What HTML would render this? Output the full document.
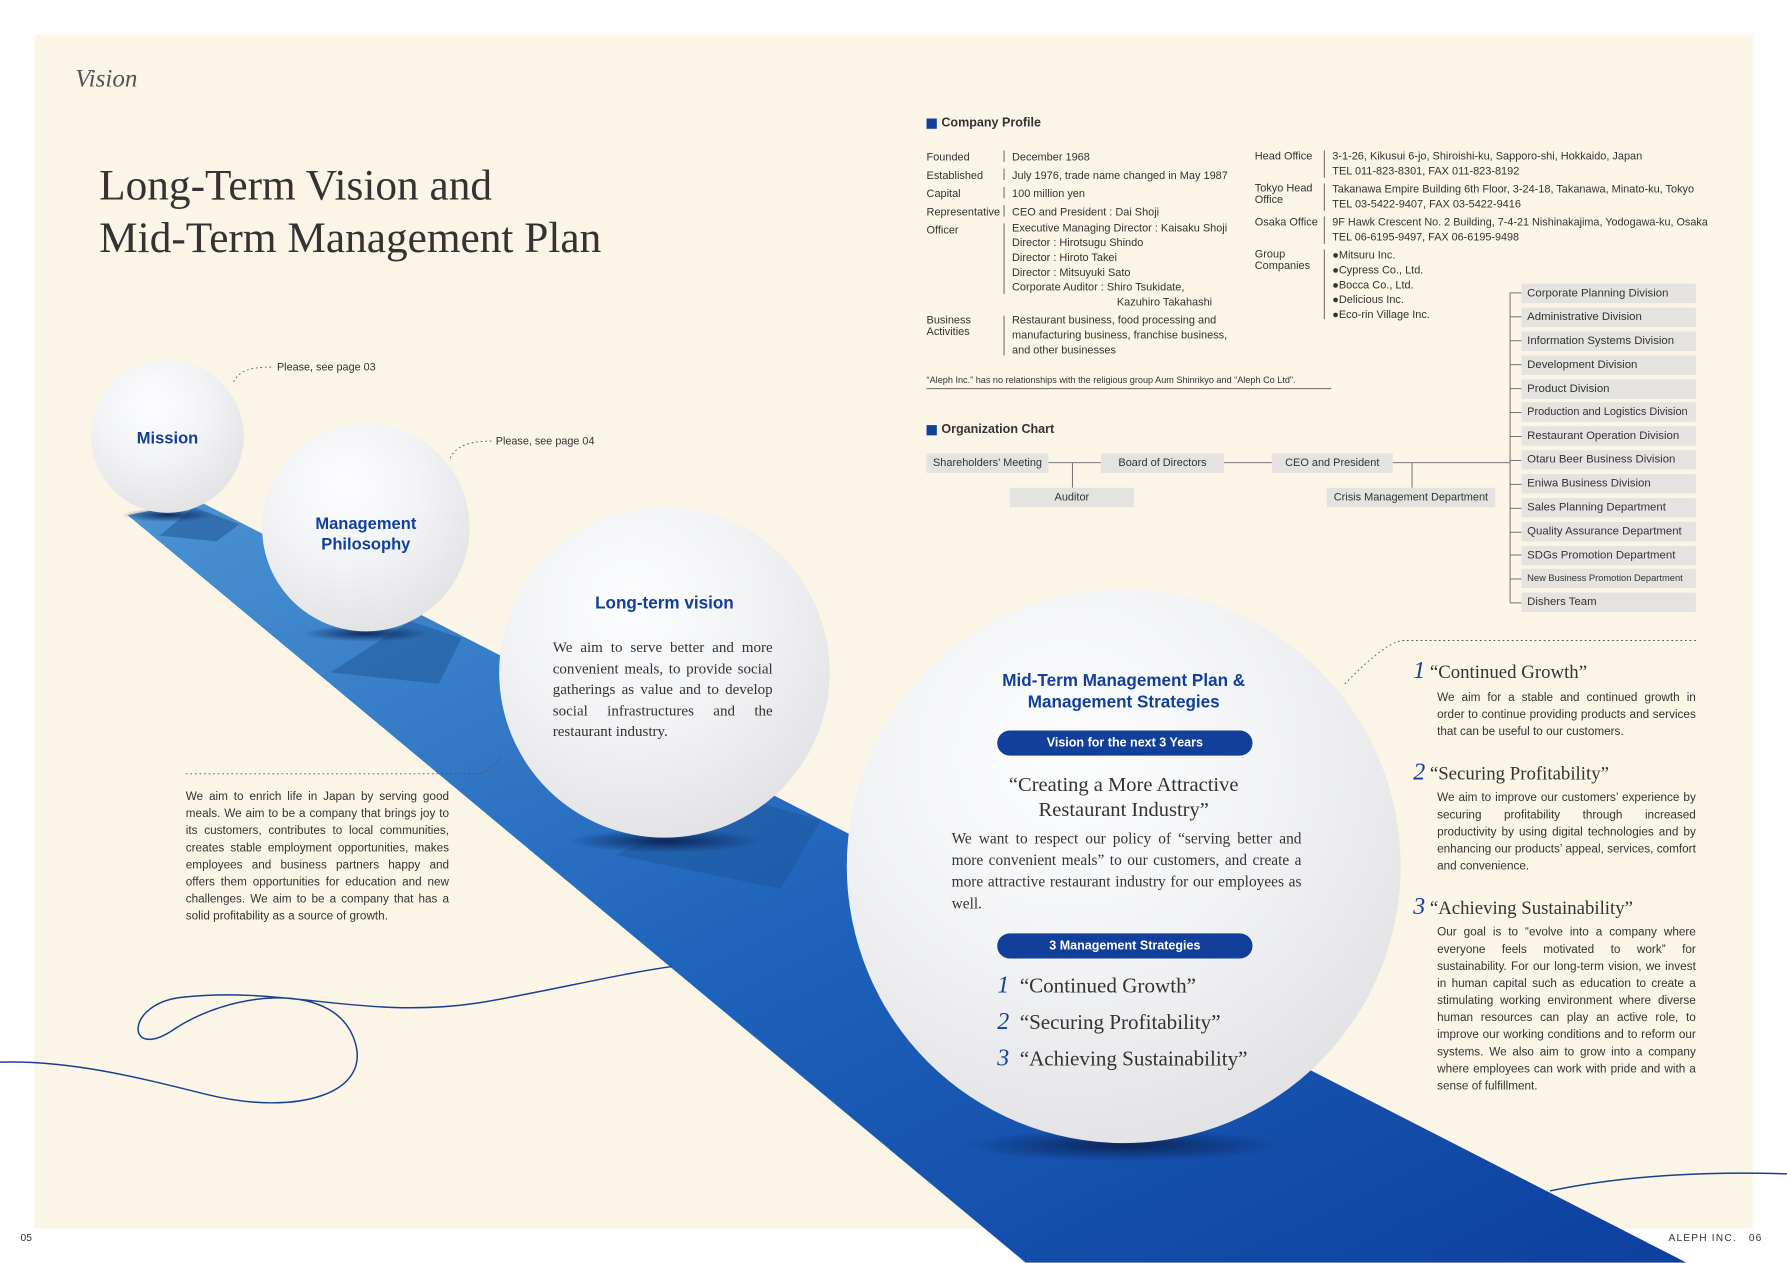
<!DOCTYPE html>
<html><head><meta charset="utf-8">
<style>
html,body{margin:0;padding:0;background:#fff;}
body{width:1787px;height:1263px;overflow:hidden;position:relative;}
#s{position:absolute;left:0;top:0;width:1568px;height:1108px;transform:scale(1.13967);transform-origin:0 0;font-family:"Liberation Sans",sans-serif;color:#333;}
.a{position:absolute;white-space:nowrap;}
.sm{font-size:10px;line-height:13px;color:#333;}
.serif{font-family:"Liberation Serif",serif;}
.box{position:absolute;background:#e4e3df;font-size:10px;height:17px;line-height:17px;color:#333;text-align:center;}
.div{position:absolute;left:1335px;width:153px;background:#e4e3df;font-size:10px;height:17px;line-height:17px;padding-left:5px;box-sizing:border-box;white-space:nowrap;overflow:hidden;}
.ball{position:absolute;border-radius:50%;background:radial-gradient(circle at 40% 30%,#fcfdfe 0%,#f2f3f5 40%,#e2e2e4 80%,#d6d6d8 100%);}
.blue{color:#123f9a;font-weight:bold;text-align:center;}
.pill{position:absolute;background:#123f9a;color:#fff;font-weight:bold;font-size:11px;text-align:center;border-radius:11px;height:22px;line-height:22px;}
.p{position:absolute;font-size:10.3px;line-height:15px;color:#333;text-align:justify;}
</style></head><body>
<div id="s">
<div style="position:absolute;left:30px;top:30px;width:1508px;height:1048px;background:#faf5e6;"></div>
<svg width="1568" height="1108" style="position:absolute;left:0;top:0">
<defs>
<linearGradient id="g" x1="0" y1="0" x2="1" y2="1"><stop offset="0" stop-color="#4b93d2"/><stop offset="0.5" stop-color="#1d62bb"/><stop offset="1" stop-color="#0d3f9f"/></linearGradient>
<radialGradient id="sh"><stop offset="0" stop-color="#0a2050" stop-opacity="0.9"/><stop offset="1" stop-color="#0a2050" stop-opacity="0"/></radialGradient>
</defs>
<polygon points="112,452 175,440 1480,1108 900,1108" fill="url(#g)"/>
<polygon points="170,445 210,460 190,475 140,470" fill="#1b4f8f" opacity="0.5"/>
<polygon points="360,545 405,560 385,600 290,590" fill="#1b4f8f" opacity="0.45"/>
<polygon points="650,700 720,720 685,780 540,750" fill="#1b4f8f" opacity="0.4"/>
<ellipse cx="147" cy="452" rx="40" ry="6" fill="url(#sh)"/>
<ellipse cx="321" cy="556" rx="55" ry="7" fill="url(#sh)"/>
<ellipse cx="583" cy="738" rx="85" ry="10" fill="url(#sh)"/>
<ellipse cx="986" cy="1005" rx="140" ry="14" fill="url(#sh)"/>
<path d="M0,932 C60,930 120,945 180,960 C260,980 330,960 310,910 C290,860 200,870 150,905 C110,930 110,880 160,875 C250,865 320,895 420,880 C480,870 540,855 590,848" fill="none" stroke="#1a3f8f" stroke-width="1.3"/>
<path d="M1360,1045 C1430,1030 1510,1028 1568,1030" fill="none" stroke="#1a3f8f" stroke-width="1.3"/>
<g stroke="#555" stroke-width="0.8" stroke-dasharray="1.5,2.5" fill="none">
<path d="M205,335 C210,325 220,322 240,322"/>
<path d="M395,402 C400,392 410,387 432,387"/>
<path d="M163,679 L418,679 C428,679 435,670 440,663"/>
<path d="M1180,600 C1195,585 1215,565 1230,562 L1490,562"/>
</g>
<g stroke="#666" stroke-width="0.8" fill="none">
<line x1="920" y1="406" x2="966" y2="406"/><line x1="1074" y1="406" x2="1116" y2="406"/><line x1="1222" y1="406" x2="1325" y2="406"/>
<line x1="941" y1="406" x2="941" y2="428"/><line x1="1239" y1="406" x2="1239" y2="428"/>
<line x1="1325" y1="257" x2="1325" y2="529"/>
</g>
<g stroke="#666" stroke-width="0.8">
<line x1="1325" y1="257" x2="1335" y2="257"/><line x1="1325" y1="278" x2="1335" y2="278"/><line x1="1325" y1="299" x2="1335" y2="299"/><line x1="1325" y1="320" x2="1335" y2="320"/><line x1="1325" y1="341" x2="1335" y2="341"/><line x1="1325" y1="362" x2="1335" y2="362"/><line x1="1325" y1="383" x2="1335" y2="383"/><line x1="1325" y1="404" x2="1335" y2="404"/><line x1="1325" y1="425" x2="1335" y2="425"/><line x1="1325" y1="446" x2="1335" y2="446"/><line x1="1325" y1="467" x2="1335" y2="467"/><line x1="1325" y1="487" x2="1335" y2="487"/><line x1="1325" y1="508" x2="1335" y2="508"/><line x1="1325" y1="529" x2="1335" y2="529"/>
</g>
<line x1="813" y1="341" x2="1168" y2="341" stroke="#666" stroke-width="0.8"/>
<g stroke="#555" stroke-width="0.8"><line x1="881" y1="132" x2="881" y2="142"/><line x1="881" y1="148" x2="881" y2="158"/><line x1="881" y1="164" x2="881" y2="174"/><line x1="881" y1="180" x2="881" y2="190"/><line x1="881" y1="196" x2="881" y2="258"/><line x1="881" y1="277" x2="881" y2="312"/><line x1="1162" y1="132" x2="1162" y2="156"/><line x1="1162" y1="161" x2="1162" y2="185"/><line x1="1162" y1="190" x2="1162" y2="214"/><line x1="1162" y1="219" x2="1162" y2="280"/></g>
</svg>

<div class="a serif" style="left:66px;top:56px;font-size:22px;font-style:italic;color:#555;">Vision</div>
<div class="a serif" style="left:87px;top:140px;font-size:38px;line-height:46px;color:#333;">Long-Term Vision and<br>Mid-Term Management Plan</div>

<div class="a sm" style="left:243px;top:316px;font-size:9.5px;">Please, see page 03</div>
<div class="a sm" style="left:435px;top:381px;font-size:9.5px;">Please, see page 04</div>

<div class="ball" style="left:80px;top:316px;width:134px;height:134px;"></div>
<div class="a blue" style="left:80px;top:377px;width:134px;font-size:14.5px;">Mission</div>
<div class="ball" style="left:230px;top:372px;width:182px;height:182px;"></div>
<div class="a blue" style="left:230px;top:451px;width:182px;font-size:14.5px;line-height:18px;">Management<br>Philosophy</div>
<div class="ball" style="left:438px;top:445px;width:290px;height:290px;"></div>
<div class="a blue" style="left:438px;top:521px;width:290px;font-size:15px;">Long-term vision</div>
<div class="p serif" style="left:485px;top:559px;width:193px;font-size:13.2px;line-height:18.5px;white-space:normal;">We aim to serve better and more convenient meals, to provide social gatherings as value and to develop social infrastructures and the restaurant industry.</div>

<div class="ball" style="left:743px;top:517px;width:486px;height:486px;"></div>
<div class="a blue" style="left:743px;top:588px;width:486px;font-size:15px;line-height:19px;">Mid-Term Management Plan &amp;<br>Management Strategies</div>
<div class="pill" style="left:875px;top:641px;width:224px;">Vision for the next 3 Years</div>
<div class="a serif" style="left:743px;top:677px;width:486px;text-align:center;font-size:18px;line-height:22px;color:#333;">“Creating a More Attractive<br>Restaurant Industry”</div>
<div class="p serif" style="left:835px;top:726px;width:307px;font-size:13.5px;line-height:19px;">We want to respect our policy of “serving better and more convenient meals” to our customers, and create a more attractive restaurant industry for our employees as well.</div>
<div class="pill" style="left:875px;top:819px;width:224px;">3 Management Strategies</div>
<div class="a serif" style="left:875px;top:849px;font-size:18.5px;line-height:30px;color:#333;"><i style="color:#123f9a;font-size:21px">1</i>&nbsp; “Continued Growth”<br><i style="color:#123f9a;font-size:21px">2</i>&nbsp; “Securing Profitability”<br><i style="color:#123f9a;font-size:21px">3</i>&nbsp; “Achieving Sustainability”</div>

<div class="p" style="left:163px;top:692px;width:231px;">We aim to enrich life in Japan by serving good meals. We aim to be a company that brings joy to its customers, contributes to local communities, creates stable employment opportunities, makes employees and business partners happy and offers them opportunities for education and new challenges. We aim to be a company that has a solid profitability as a source of growth.</div>

<div class="a" style="left:813px;top:104px;width:9px;height:9px;background:#123f9a;"></div>
<div class="a" style="left:826px;top:102px;font-size:11px;font-weight:bold;">Company Profile</div>
<div class="a sm" style="left:813px;top:131px;line-height:16px;font-size:9.6px;">Founded<br>Established<br>Capital<br>Representative<br>Officer</div>
<div class="a sm" style="left:813px;top:277px;line-height:10px;font-size:9.6px;">Business<br>Activities</div>
<div class="a sm" style="left:888px;top:131px;line-height:16px;font-size:9.6px;">December 1968<br>July 1976, trade name changed in May 1987<br>100 million yen<br>CEO and President : Dai Shoji</div>
<div class="a sm" style="left:888px;top:194px;font-size:9.6px;">Executive Managing Director : Kaisaku Shoji<br>Director : Hirotsugu Shindo<br>Director : Hiroto Takei<br>Director : Mitsuyuki Sato<br>Corporate Auditor : Shiro Tsukidate,</div>
<div class="a sm" style="left:980px;top:259px;font-size:9.6px;">Kazuhiro Takahashi</div>
<div class="a sm" style="left:888px;top:275px;font-size:9.6px;">Restaurant business, food processing and<br>manufacturing business, franchise business,<br>and other businesses</div>
<div class="a sm" style="left:1101px;top:131px;font-size:9.6px;">Head Office</div>
<div class="a sm" style="left:1101px;top:161px;line-height:10px;font-size:9.6px;">Tokyo Head<br>Office</div>
<div class="a sm" style="left:1101px;top:189px;font-size:9.6px;">Osaka Office</div>
<div class="a sm" style="left:1101px;top:219px;line-height:10px;font-size:9.6px;">Group<br>Companies</div>
<div class="a sm" style="left:1169px;top:131px;font-size:9.6px;">3-1-26, Kikusui 6-jo, Shiroishi-ku, Sapporo-shi, Hokkaido, Japan<br>TEL 011-823-8301, FAX 011-823-8192</div>
<div class="a sm" style="left:1169px;top:160px;font-size:9.6px;">Takanawa Empire Building 6th Floor, 3-24-18, Takanawa, Minato-ku, Tokyo<br>TEL 03-5422-9407, FAX 03-5422-9416</div>
<div class="a sm" style="left:1169px;top:189px;font-size:9.5px;">9F Hawk Crescent No. 2 Building, 7-4-21 Nishinakajima, Yodogawa-ku, Osaka<br>TEL 06-6195-9497, FAX 06-6195-9498</div>
<div class="a sm" style="left:1169px;top:218px;font-size:9.6px;">●Mitsuru Inc.<br>●Cypress Co., Ltd.<br>●Bocca Co., Ltd.<br>●Delicious Inc.<br>●Eco-rin Village Inc.</div>
<div class="a" style="left:813px;top:329px;font-size:8px;">“Aleph Inc.” has no relationships with the religious group Aum Shinrikyo and “Aleph Co Ltd”.</div>

<div class="a" style="left:813px;top:373px;width:9px;height:9px;background:#123f9a;"></div>
<div class="a" style="left:826px;top:371px;font-size:11px;font-weight:bold;">Organization Chart</div>
<div class="box" style="left:813px;top:398px;width:107px;font-size:9.6px;">Shareholders’ Meeting</div>
<div class="box" style="left:966px;top:398px;width:108px;font-size:9.6px;">Board of Directors</div>
<div class="box" style="left:1116px;top:398px;width:106px;font-size:9.6px;">CEO and President</div>
<div class="box" style="left:886px;top:428px;width:109px;font-size:9.6px;">Auditor</div>
<div class="box" style="left:1164px;top:428px;width:148px;font-size:9.6px;">Crisis Management Department</div>
<div class="div" style="top:249px;">Corporate Planning Division</div>
<div class="div" style="top:270px;">Administrative Division</div>
<div class="div" style="top:291px;">Information Systems Division</div>
<div class="div" style="top:312px;">Development Division</div>
<div class="div" style="top:333px;">Product Division</div>
<div class="div" style="top:353px;font-size:9.6px;">Production and Logistics Division</div>
<div class="div" style="top:374px;">Restaurant Operation Division</div>
<div class="div" style="top:395px;">Otaru Beer Business Division</div>
<div class="div" style="top:416px;">Eniwa Business Division</div>
<div class="div" style="top:437px;">Sales Planning Department</div>
<div class="div" style="top:458px;">Quality Assurance Department</div>
<div class="div" style="top:479px;">SDGs Promotion Department</div>
<div class="div" style="top:499px;font-size:8.2px;">New Business Promotion Department</div>
<div class="div" style="top:520px;">Dishers Team</div>

<div class="a serif" style="left:1240px;top:576px;font-size:16.5px;"><i style="color:#123f9a;font-size:21px">1</i> “Continued Growth”</div>
<div class="p" style="left:1261px;top:605px;width:227px;">We aim for a stable and continued growth in order to continue providing products and services that can be useful to our customers.</div>
<div class="a serif" style="left:1240px;top:665px;font-size:16.5px;"><i style="color:#123f9a;font-size:21px">2</i> “Securing Profitability”</div>
<div class="p" style="left:1261px;top:693px;width:227px;">We aim to improve our customers’ experience by securing profitability through increased productivity by using digital technologies and by enhancing our products’ appeal, services, comfort and convenience.</div>
<div class="a serif" style="left:1240px;top:783px;font-size:16.5px;"><i style="color:#123f9a;font-size:21px">3</i> “Achieving Sustainability”</div>
<div class="p" style="left:1261px;top:811px;width:227px;">Our goal is to “evolve into a company where everyone feels motivated to work” for sustainability. For our long-term vision, we invest in human capital such as education to create a stimulating working environment where diverse human resources can play an active role, to improve our working conditions and to reform our systems. We also aim to grow into a company where employees can work with pride and with a sense of fulfillment.</div>

<div class="a" style="left:18px;top:1081px;font-size:9px;">05</div>
<div class="a" style="left:1464px;top:1081px;font-size:9px;letter-spacing:1px;">ALEPH INC.&nbsp;&nbsp; 06</div>
</div>
</body></html>
